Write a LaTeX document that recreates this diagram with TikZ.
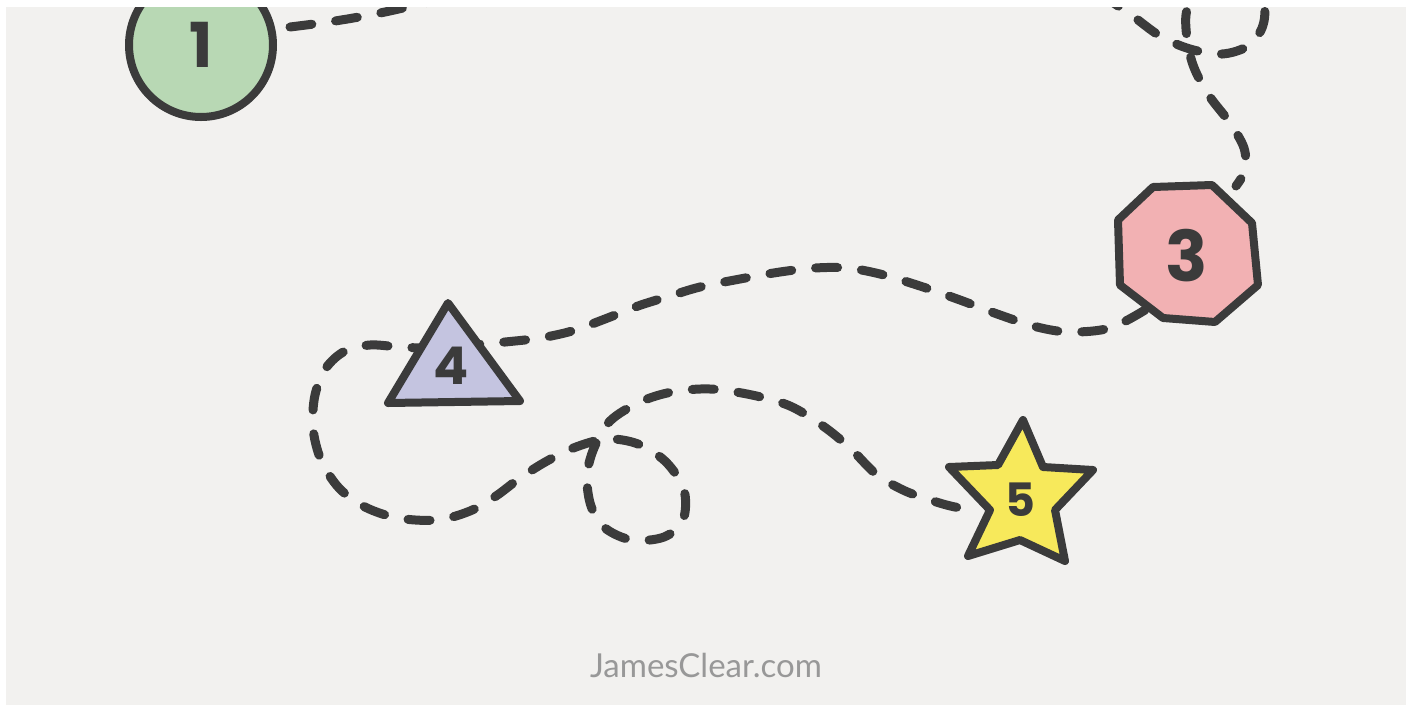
\documentclass[tikz,border=0pt]{standalone}
\usepackage{fontspec}
\newfontfamily\digitfont{Poppins}
\newfontfamily\labelfont{Lato}
\definecolor{bgc}{HTML}{F2F1EF}
\definecolor{ink}{HTML}{3B3B3B}
\definecolor{gfill}{HTML}{B8D8B4}
\definecolor{pfill}{HTML}{F2B1B3}
\definecolor{lfill}{HTML}{C4C4E0}
\definecolor{yfill}{HTML}{F7E95B}
\definecolor{wm}{HTML}{989898}
\tikzset{
  trail/.style={draw=ink, line width=9pt, line cap=round, dash pattern=on 22pt off 24pt},
  shapeline/.style={draw=ink, line width=8pt, line join=round},
  digit/.style={text=ink, inner sep=0pt, font=\digitfont},
}
\begin{document}
\begin{tikzpicture}[x=1pt,y=-1pt]
\useasboundingbox (0,0) rectangle (1417,705);
\fill[white] (0,0) rectangle (1417,705);
\fill[bgc] (6,7) rectangle (1406,705);
\begin{scope}
\clip (6,7) rectangle (1406,705);
% connectors
\coordinate (a1) at (290,27);
\coordinate (a2) at (445,-2);
\draw[trail] plot[smooth, tension=0.6] coordinates {(a1) (335,21) (385,12) (a2)};
\coordinate (b1) at (1100,-6);
\coordinate (b2) at (1236,186);
\draw[trail] plot[smooth, tension=0.55] coordinates {(b1) (1130,14) (1160,36) (1190,49) (1222,54) (1248,46) (1262,28) (1264,6) (1250,-16) (1222,-24) (1195,-10) (1186,15) (1188,45) (1195,70) (1210,97) (1230,123) (1244,148) (1245,170) (b2)};
\coordinate (c1) at (1145,310);
\coordinate (c2) at (980,510);
\draw[trail] plot[smooth, tension=0.55] coordinates {(c1) (1110,328) (1070,332) (1037,327) (1000,315) (960,300) (920,286) (880,274) (847,268) (815,268) (780,272) (740,279) (700,287) (670,296) (638,306) (605,319) (572,331) (540,338) (505,342) (470,345) (430,348) (400,347) (370,345) (345,351) (326,368) (315,395) (313,428) (321,460) (339,488) (365,507) (398,518) (437,520) (470,511) (496,496) (520,478) (547,461) (576,447) (607,439) (638,444) (666,462) (684,490) (683,520) (664,537) (632,540) (605,528) (591,506) (587,476) (594,448) (610,421) (640,402) (672,392) (710,389) (752,395) (790,406) (823,426) (850,448) (876,474) (903,490) (930,500) (955,507) (c2)};
% shapes
\node[circle, shapeline, fill=gfill, minimum size=144pt, digit, font=\digitfont\bfseries\fontsize{62}{62}\selectfont] (n1) at (201,45) {1};
\draw[shapeline, fill=pfill] (1153,187) -- (1212,185) -- (1252,223) -- (1258,285) -- (1215,322) -- (1163,318) -- (1120,285) -- (1118,220) -- cycle;
\node[digit, font=\digitfont\bfseries\fontsize{70}{70}\selectfont] (n3) at (1187,256) {3};
\draw[shapeline, fill=lfill] (448,303) -- (520,401) -- (388,403) -- cycle;
\node[digit, font=\digitfont\bfseries\fontsize{52}{52}\selectfont] (n4) at (451,366) {4};
\draw[shapeline, fill=yfill] (1023,420) -- (1043,467) -- (1093,470) -- (1055,510) -- (1065,561) -- (1020,540) -- (968,556) -- (990,510) -- (949,467) -- (998,465) -- cycle;
\node[digit, font=\digitfont\bfseries\fontsize{46}{46}\selectfont] (n5) at (1020,500) {5};
\node[anchor=base, text=wm, font=\labelfont\fontsize{33}{33}\selectfont, inner sep=0pt] (wmk) at (706,677) {JamesClear.com};
\end{scope}
\end{tikzpicture}
\end{document}
